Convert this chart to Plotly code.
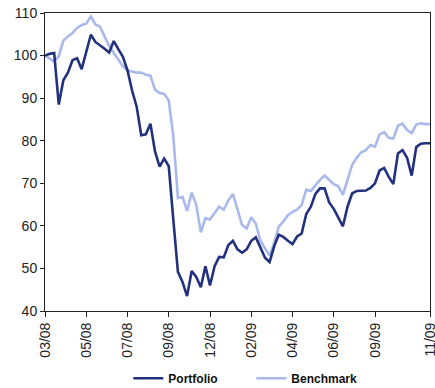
import plotly.graph_objects as go

# Weekly index levels (start = 100)
portfolio = [
    100.0, 100.4, 100.6, 88.5, 94.2, 96.0, 98.9, 99.4, 96.8, 100.9,
    104.9, 103.2, 102.5, 101.6, 100.7, 103.4, 101.5, 99.7, 96.5, 91.8,
    88.0, 81.3, 81.5, 84.0, 77.5, 73.9, 75.8, 74.0, 61.4, 49.2,
    46.8, 43.5, 49.4, 48.0, 45.6, 50.5, 46.0, 50.5, 52.7, 52.6,
    55.5, 56.5, 54.5, 53.7, 54.5, 56.5, 57.3, 55.0, 52.5, 51.5,
    55.2, 57.9, 57.4, 56.5, 55.7, 57.5, 58.2, 62.8, 64.5, 67.5,
    68.8, 68.8, 65.5, 64.0, 62.0, 59.9, 64.5, 67.6, 68.2, 68.2,
    68.3, 68.9, 70.0, 73.0, 73.6, 71.5, 69.8, 77.0, 77.8, 76.0,
    71.8, 78.5, 79.3, 79.4, 79.4,
]
benchmark = [
    100.0, 99.2, 98.6, 99.8, 103.5, 104.5, 105.3, 106.5, 107.2, 107.5,
    109.2, 107.3, 106.8, 104.5, 102.3, 100.6, 99.0, 97.5, 96.5, 96.2,
    96.0, 96.0, 95.5, 95.3, 92.0, 91.2, 91.0, 89.5, 81.0, 66.5,
    66.8, 63.5, 67.8, 65.0, 58.5, 61.8, 61.5, 63.0, 64.5, 63.8,
    66.0, 67.5, 63.8, 60.2, 59.4, 62.0, 60.5, 56.5, 54.7, 53.0,
    56.0, 59.8, 61.0, 62.5, 63.3, 63.8, 64.9, 68.5, 68.2, 69.5,
    70.8, 71.8, 70.8, 69.8, 69.3, 67.3, 70.8, 74.3, 76.0, 77.3,
    77.8, 79.0, 78.6, 81.5, 82.0, 80.7, 80.5, 83.5, 84.0, 82.5,
    81.8, 83.8, 84.1, 83.9, 83.9,
]
weeks = list(range(len(portfolio)))

tick_weeks = [0, 9, 18, 27, 36, 45, 54, 63, 72, 84]
tick_labels = ["03/08", "05/08", "07/08", "09/08", "12/08",
               "02/09", "04/09", "06/09", "09/09", "11/09"]

fig = go.Figure()
# benchmark first so the portfolio line sits on top
fig.add_trace(go.Scatter(x=weeks, y=benchmark, mode="lines", name="Benchmark",
                         line=dict(color="#a9b9ec", width=2.6)))
fig.add_trace(go.Scatter(x=weeks, y=portfolio, mode="lines", name="Portfolio",
                         line=dict(color="#22327f", width=2.6)))

fig.update_layout(
    width=435, height=388,
    margin=dict(l=45, r=5, t=13, b=77, autoexpand=False),
    paper_bgcolor="white", plot_bgcolor="white",
    font=dict(family="Liberation Sans, Arial, sans-serif", size=14, color="#222"),
    showlegend=True,
    legend=dict(orientation="h", xref="container", yref="container",
                x=0.295, xanchor="left", y=0.025, yanchor="middle",
                traceorder="reversed",
                font=dict(size=12, color="#111", family="Liberation Sans, Arial, sans-serif",
                          weight="bold"),
                entrywidth=78, entrywidthmode="pixels"),
)
fig.update_xaxes(range=[0, len(weeks) - 1], tickmode="array", tickvals=tick_weeks,
                 ticktext=tick_labels, tickangle=-90, ticks="outside", ticklen=5,
                 ticklabeloverflow="allow",
                 tickcolor="#222", showline=True, linecolor="#222", linewidth=1,
                 mirror=True, showgrid=False, zeroline=False)
fig.update_yaxes(range=[40, 110], dtick=10, ticks="outside", ticklen=4,
                 tickcolor="#222", showline=True, linecolor="#222", linewidth=1,
                 mirror=True, showgrid=False, zeroline=False)

fig.write_html("out.html")
